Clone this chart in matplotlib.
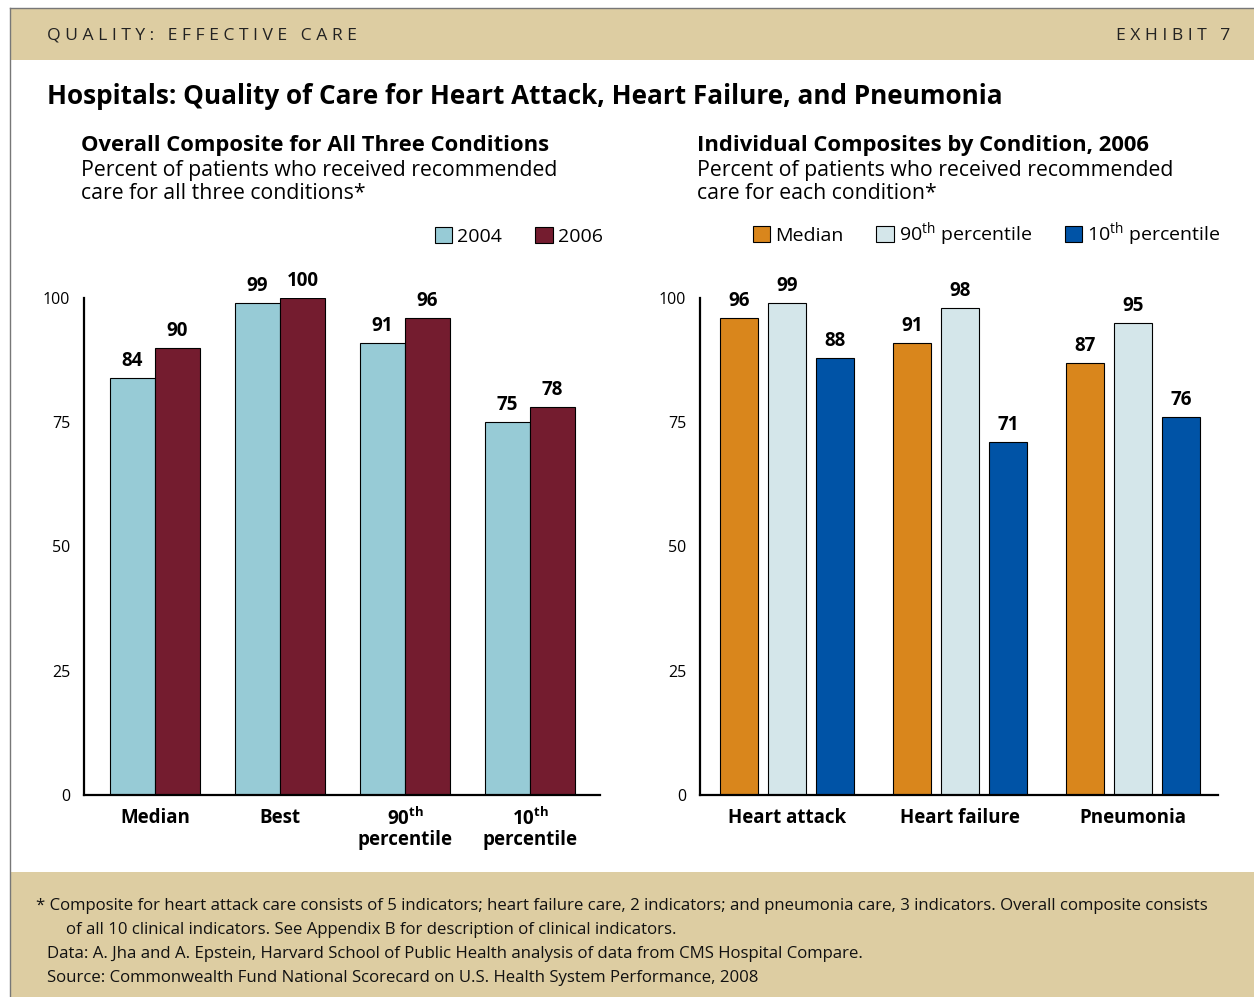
import matplotlib
matplotlib.use('Agg')
import matplotlib.pyplot as plt
import numpy as np
from matplotlib.patches import Rectangle

plt.rcParams['font.family'] = ['Open Sans', 'DejaVu Sans']
plt.rcParams['mathtext.fontset'] = 'custom'
plt.rcParams['mathtext.rm'] = 'Open Sans'
plt.rcParams['mathtext.bf'] = 'Open Sans:bold'

# 数据：左图（总体综合）
left_cats = ['Median', 'Best', '90$^{\\mathbf{th}}$\npercentile', '10$^{\\mathbf{th}}$\npercentile']
vals_2004 = [84, 99, 91, 75]
vals_2006 = [90, 100, 96, 78]

# 数据：右图（按疾病分）
right_cats = ['Heart attack', 'Heart failure', 'Pneumonia']
median_vals = [96, 91, 87]
p90_vals = [99, 98, 95]
p10_vals = [88, 71, 76]

c_2004 = '#97CBD6'
c_2006 = '#741C2F'
c_med = '#D9861C'
c_p90 = '#D4E6EA'
c_p10 = '#0053A6'
tan = '#DDCDA2'

W, H = 1254, 997
fig = plt.figure(figsize=(W / 100, H / 100), dpi=100)

def px(x, y):
    return x / W, 1 - y / H

# 背景框和横幅
fig.patches.append(Rectangle(px(10, 60), (W - 10) / W, 52 / H, transform=fig.transFigure,
                             facecolor=tan, edgecolor='none', zorder=0))
fig.patches.append(Rectangle(px(10, 997), (W - 10) / W, 125 / H, transform=fig.transFigure,
                             facecolor=tan, edgecolor='none', zorder=0))
fig.add_artist(plt.Line2D([10 / W, 10 / W], [0, 1 - 8 / H], transform=fig.transFigure,
                          color='#777777', lw=1))
fig.add_artist(plt.Line2D([10 / W, 1], [1 - 8 / H, 1 - 8 / H], transform=fig.transFigure,
                          color='#777777', lw=1))

fig.text(*px(47, 36), 'Q U A L I T Y :   E F F E C T I V E   C A R E', fontsize=12.6,
         va='center', ha='left', color='#222222')
fig.text(*px(1230, 36), 'E X H I B I T   7', fontsize=12.6, va='center', ha='right', color='#222222')

fig.text(*px(47, 96), 'Hospitals: Quality of Care for Heart Attack, Heart Failure, and Pneumonia',
         fontsize=18.8, fontweight='bold', va='center', ha='left')

fig.text(*px(81, 145), 'Overall Composite for All Three Conditions', fontsize=15.8,
         fontweight='bold', va='center')
fig.text(*px(81, 182), 'Percent of patients who received recommended\ncare for all three conditions*',
         fontsize=15.3, va='center', linespacing=1.17)

fig.text(*px(697, 145), 'Individual Composites by Condition, 2006', fontsize=15.8,
         fontweight='bold', va='center')
fig.text(*px(697, 182), 'Percent of patients who received recommended\ncare for each condition*',
         fontsize=15.3, va='center', linespacing=1.17)

# 左图
ax1 = fig.add_axes([84 / W, (H - 795) / H, 516 / W, 497 / H])
x = np.arange(len(left_cats))
bw = 0.36
b1 = ax1.bar(x - bw / 2, vals_2004, bw, color=c_2004, edgecolor='black', linewidth=0.8, label='2004')
b2 = ax1.bar(x + bw / 2, vals_2006, bw, color=c_2006, edgecolor='black', linewidth=0.8, label='2006')
for bars in (b1, b2):
    for b in bars:
        ax1.annotate(str(int(b.get_height())), (b.get_x() + b.get_width() / 2, b.get_height()),
                     xytext=(0, 5), textcoords='offset points', ha='center', va='bottom',
                     fontsize=13.5, fontweight='bold', annotation_clip=False)
ax1.set_xlim(-0.568, 3.56)
ax1.set_xticks(x)
ax1.set_xticklabels(left_cats, fontsize=13.5, fontweight='bold', linespacing=1.05)

# 右图
ax2 = fig.add_axes([700 / W, (H - 795) / H, 518 / W, 497 / H])
x2 = np.arange(len(right_cats))
bw2 = 0.22
step = 0.277
r1 = ax2.bar(x2 - step, median_vals, bw2, color=c_med, edgecolor='black', linewidth=0.8, label='Median')
r2 = ax2.bar(x2, p90_vals, bw2, color=c_p90, edgecolor='black', linewidth=0.8, label='90$^{\\mathrm{th}}$ percentile')
r3 = ax2.bar(x2 + step, p10_vals, bw2, color=c_p10, edgecolor='black', linewidth=0.8, label='10$^{\\mathrm{th}}$ percentile')
for bars in (r1, r2, r3):
    for b in bars:
        ax2.annotate(str(int(b.get_height())), (b.get_x() + b.get_width() / 2, b.get_height()),
                     xytext=(0, 5), textcoords='offset points', ha='center', va='bottom',
                     fontsize=13.5, fontweight='bold', annotation_clip=False)
ax2.set_xlim(-0.503, 2.491)
ax2.set_xticks(x2)
ax2.set_xticklabels(right_cats, fontsize=13.5, fontweight='bold')

for ax in (ax1, ax2):
    ax.set_ylim(0, 100)
    ax.set_yticks([0, 25, 50, 75, 100])
    ax.tick_params(axis='y', length=0, pad=10, labelsize=11.5)
    ax.tick_params(axis='x', length=0, pad=9)
    for s in ('top', 'right'):
        ax.spines[s].set_visible(False)
    for s in ('left', 'bottom'):
        ax.spines[s].set_linewidth(1.6)
    ax.patch.set_alpha(0)

leg1 = ax1.legend(loc='lower right', bbox_to_anchor=(1.005, 1.105), ncol=2, frameon=False,
                  fontsize=14, handlelength=0.9, handleheight=0.9, handletextpad=0.25,
                  columnspacing=1.7, borderaxespad=0, borderpad=0)
leg2 = ax2.legend(loc='lower right', bbox_to_anchor=(1.005, 1.1), ncol=3, frameon=False,
                  fontsize=14, handlelength=0.9, handleheight=0.9, handletextpad=0.25,
                  columnspacing=1.7, borderaxespad=0, borderpad=0)

# 脚注
notes = [
    (36, 906, '* Composite for heart attack care consists of 5 indicators; heart failure care, 2 indicators; and pneumonia care, 3 indicators. Overall composite consists'),
    (66, 930, 'of all 10 clinical indicators. See Appendix B for description of clinical indicators.'),
    (47, 954, 'Data: A. Jha and A. Epstein, Harvard School of Public Health analysis of data from CMS Hospital Compare.'),
    (47, 978, 'Source: Commonwealth Fund National Scorecard on U.S. Health System Performance, 2008'),
]
for nx, ny, t in notes:
    fig.text(*px(nx, ny), t, fontsize=12.1, va='center', ha='left', color='#111111')

fig.savefig('out.png', dpi=100)
